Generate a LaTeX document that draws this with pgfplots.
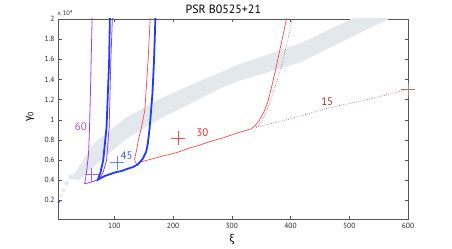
\documentclass[border=0pt]{standalone}
\usepackage{fontspec}
\setmainfont{PT Sans}
\newfontfamily\grk{Fira Sans}
\usepackage{pgfplots}
\pgfplotsset{compat=1.18}
\definecolor{cpurple}{HTML}{9B3DF5}
\definecolor{cpurplelab}{HTML}{A050F0}
\definecolor{cpurplecross}{HTML}{A264DA}
\definecolor{cblue}{HTML}{1E3CFF}
\definecolor{cbluelab}{HTML}{3355FF}
\definecolor{cbluecross}{HTML}{6688FF}
\definecolor{cred}{HTML}{FF4646}
\definecolor{credlab}{HTML}{FF2828}
\definecolor{cbrown}{HTML}{8C4646}
\definecolor{cbrownlab}{HTML}{993322}
\definecolor{cbrowncross}{HTML}{B07868}
\definecolor{cband}{HTML}{E3E8ED}
\definecolor{caxis}{HTML}{555555}
\begin{document}
\begin{tikzpicture}
\useasboundingbox (-58.5bp,-30bp) rectangle (393.5bp,219bp);
\begin{axis}[
  at={(0,0)}, anchor=south west,
  scale only axis, width=349.5bp, height=200bp,
  xmin=5, xmax=600, ymin=0.015, ymax=2,
  xtick={100,200,300,400,500,600},
  ytick={0.2,0.4,0.6,0.8,1,1.2,1.4,1.6,1.8,2},
  yticklabels={0.2,0.4,0.6,0.8,1,1.2,1.4,1.6,1.8,2},
  tick align=inside, xtick pos=both, ytick pos=both,
  major tick length=3.5bp,
  axis line style={caxis, line width=0.8bp},
  every tick/.style={caxis, line width=0.5bp},
  tick label style={font=\fontsize{7.5}{9}\selectfont, text=black!85},
  /pgf/number format/assume math mode=true,
  xticklabel style={yshift=-1bp},
  yticklabel style={xshift=-0.5bp},
  xlabel={{\grk ξ}},
  ylabel={{\grk γ}\textsubscript{0}},
  xlabel style={at={(axis description cs:0.4956,-0.105)}, anchor=center, font=\fontsize{11}{13}\selectfont},
  ylabel style={at={(axis description cs:-0.0815,0.51)}, anchor=center, rotate=0, font=\fontsize{11}{13}\selectfont},
  clip=true,
]
% gray band
\addplot[draw=none, fill=cband] coordinates {
 (30,0.45) (36,0.497) (64.1,0.761) (120.8,1.025) (177.3,1.207) (233.9,1.355) (279,1.467) (313.2,1.553) (415,1.754) (496.5,1.98) (520,2.05)
 (585,2.05) (564,1.99) (496.5,1.80) (415,1.566) (313.2,1.388) (279,1.309) (233.9,1.173) (177.3,1.009) (120.8,0.811) (64.1,0.530) (40,0.40) (30,0.41)
} -- cycle;
\addplot[only marks, mark=*, mark size=2.4bp, color=cband] coordinates {(26,0.43)};
\addplot[only marks, mark=*, mark size=2.1bp, color=cband] coordinates {(19,0.37)};
\addplot[only marks, mark=*, mark size=1.8bp, color=cband] coordinates {(14,0.30)};
\addplot[only marks, mark=*, mark size=1.5bp, color=cband] coordinates {(10.4,0.25)};
\addplot[only marks, mark=*, mark size=0.9bp, color=cblue] coordinates {(5.5,0.185)};
% purple (60)
\addplot[cpurple, line width=0.8bp] coordinates {
 (62.4,2.05) (59.5,1.3) (58.0,0.96) (56.5,0.7) (55.6,0.63) (52,0.45) (49.5,0.365) (60,0.38) (72.1,0.405)
 (77.2,0.44) (81,0.48) (86.8,0.596) (88.2,0.695) (91.2,0.926) (94.1,1.586) (97.0,2.05)
};
% red (30)
\addplot[cred, line width=0.7bp] coordinates {
 (161.5,2.05) (157.5,1.586) (151.9,1.091) (146.3,0.926) (141,0.80) (137.8,0.695) (134.5,0.61) (136,0.575) (140,0.556)
 (143.4,0.579) (170,0.62) (185,0.645) (199.4,0.662) (214,0.69) (228,0.72) (242,0.742) (256.6,0.771) (270,0.795) (285,0.82) (300,0.85) (313.2,0.876) (325,0.895) (333,0.91)
 (340,0.945) (347,0.995) (354,1.07) (361,1.17) (368,1.33) (375.5,1.52) (384,1.751) (392.4,1.982) (393.5,2.05)
};
% blue (45)
\addplot[cblue, line width=1.8bp] coordinates {
 (92.6,2.05) (91.2,1.586) (86.8,0.926) (82.8,0.695) (81.1,0.596) (76.5,0.48) (72.1,0.405)
 (83,0.44) (94.6,0.464) (103,0.48) (111.6,0.490) (123,0.514) (131.5,0.530) (140,0.556)
 (148.5,0.613) (154.1,0.68) (157,0.76) (160.3,0.926) (164.9,1.256) (167.6,1.586) (170.2,2.05)
};
% brown dotted (15)
\addplot[cbrown, line width=0.6bp, dash pattern=on 0.6bp off 1.6bp] coordinates {
 (341.5,0.926) (347.1,0.955) (352,1.0) (358,1.07) (364,1.16) (369.7,1.256) (377,1.39) (384,1.52) (395.2,1.784) (403.8,2.05)
};
\addplot[cbrown, line width=0.6bp, dash pattern=on 0.6bp off 1.6bp] coordinates {
 (341.5,0.926) (400,1.01) (460,1.11) (530,1.2) (600,1.3)
};
% crosses
\addplot[only marks, mark=+, mark size=7bp, color=cpurplecross, mark options={line width=0.6bp}] coordinates {(61.4,0.454)};
\addplot[only marks, mark=+, mark size=7bp, color=cbluecross, mark options={line width=0.6bp}] coordinates {(104.5,0.575)};
\addplot[only marks, mark=+, mark size=7bp, color=cred, mark options={line width=0.6bp}] coordinates {(208.4,0.817)};
\addplot[only marks, mark=+, mark size=7bp, color=cbrowncross, mark options={line width=0.6bp}] coordinates {(600,1.3)};
% labels
\node[text=cpurplelab, font=\fontsize{11}{13}\selectfont] at (axis cs:43.2,0.933) {60};
\node[text=cbluelab, font=\fontsize{11}{13}\selectfont] at (axis cs:120.8,0.645) {45};
\node[text=credlab, font=\fontsize{11}{13}\selectfont] at (axis cs:249.8,0.876) {30};
\node[text=cbrownlab, font=\fontsize{11}{13}\selectfont] at (axis cs:462.5,1.183) {15};
\end{axis}
\node[anchor=south west, inner sep=0pt, font=\fontsize{6.5}{8}\selectfont, text=black!85] at (-1bp,203bp) {x 10\textsuperscript{4}};
\node[anchor=base, inner sep=0pt, font=\fontsize{12}{14}\selectfont] at (164.8bp,205.5bp) {PSR B0525+21};
\end{tikzpicture}
\end{document}
